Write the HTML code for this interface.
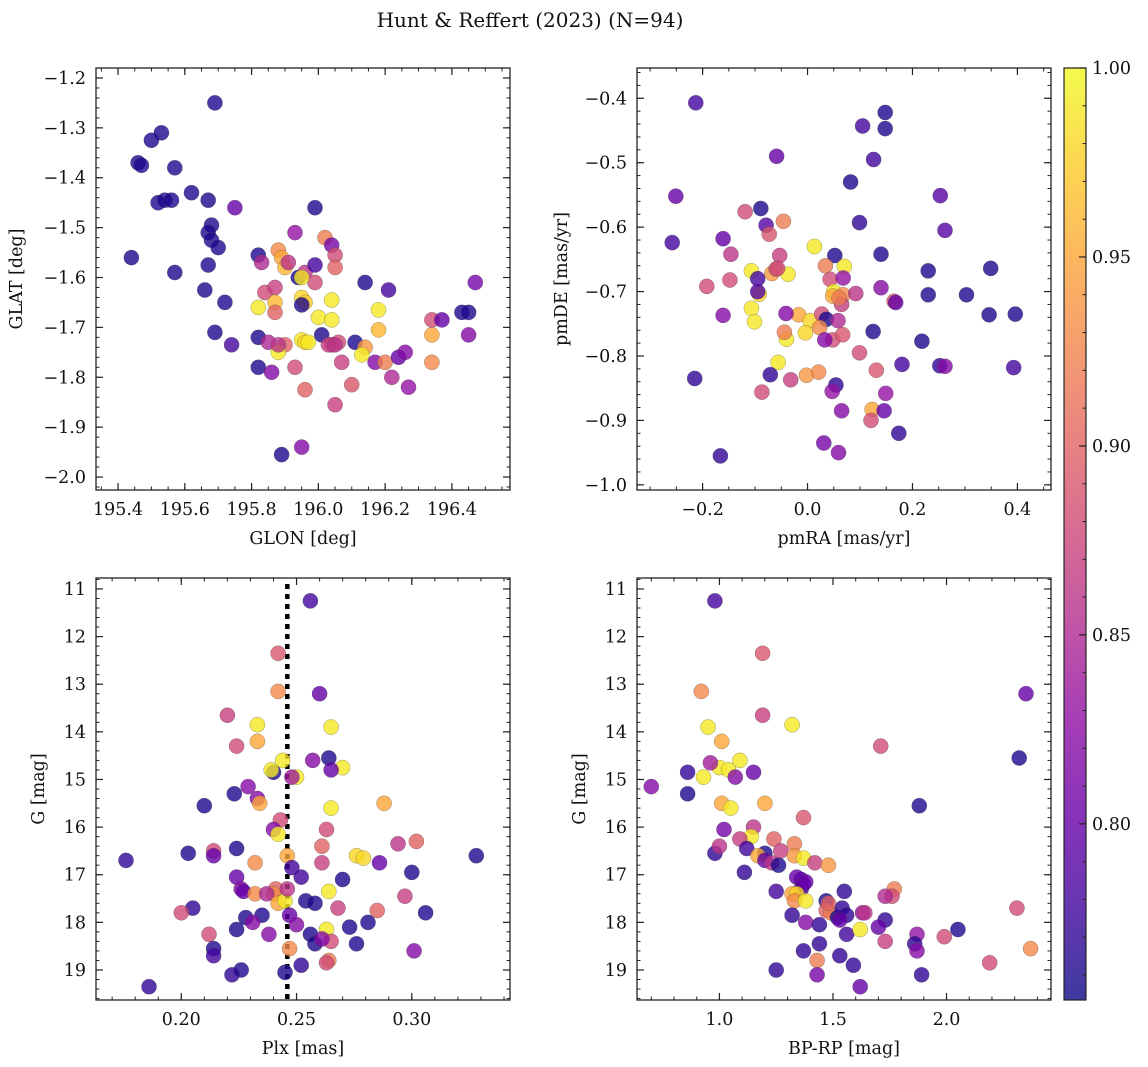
<!DOCTYPE html>
<html><head><meta charset="utf-8"><title>Hunt & Reffert (2023)</title>
<style>
html,body{margin:0;padding:0;background:#fff;}
svg{display:block;font-family:"DejaVu Serif","Liberation Serif",serif;}
</style></head>
<body>
<svg id="fig" width="1148" height="1067" viewBox="0 0 1148 1067" xmlns="http://www.w3.org/2000/svg">
<text x="530" y="27" font-size="20" text-anchor="middle" fill="#111">Hunt &amp; Reffert (2023) (N=94)</text>
</svg>
<script>
// ---- data: [x, y, membership probability] per panel ----
const glonGlat = [[195.69,-1.25,.76],[195.53,-1.31,.76],[195.50,-1.325,.76],[195.46,-1.37,.76],[195.47,-1.375,.76],[195.57,-1.38,.76],[195.62,-1.43,.76],[195.52,-1.45,.76],[195.54,-1.445,.76],[195.67,-1.445,.76],[195.75,-1.46,.8],[195.99,-1.46,.76],[195.44,-1.56,.76],[195.57,-1.59,.76],[195.68,-1.495,.76],[195.67,-1.51,.76],[195.68,-1.525,.76],[195.70,-1.54,.76],[195.67,-1.575,.76],[195.66,-1.625,.76],[195.72,-1.65,.76],[195.69,-1.71,.76],[195.74,-1.735,.78],[195.82,-1.555,.76],[195.83,-1.57,.85],[195.88,-1.545,.93],[195.89,-1.56,.95],[195.90,-1.58,.96],[195.93,-1.51,.83],[195.94,-1.6,.76],[195.96,-1.59,.86],[195.99,-1.61,.88],[195.99,-1.575,.78],[196.02,-1.52,.92],[196.04,-1.535,.81],[196.05,-1.555,.88],[196.05,-1.58,.9],[195.84,-1.63,.88],[195.87,-1.62,.87],[195.91,-1.57,.86],[195.82,-1.66,.99],[195.87,-1.65,.96],[195.95,-1.64,.98],[195.96,-1.65,.97],[195.95,-1.60,.99],[196.04,-1.645,.99],[196.00,-1.68,.99],[196.04,-1.685,.99],[195.95,-1.725,.99],[195.96,-1.73,.98],[195.97,-1.73,.99],[195.82,-1.72,.76],[195.82,-1.78,.76],[195.85,-1.73,.85],[195.87,-1.67,.9],[195.90,-1.735,.9],[195.88,-1.75,.99],[195.86,-1.79,.82],[195.93,-1.78,.88],[195.95,-1.655,.76],[196.01,-1.715,.76],[196.04,-1.735,.86],[196.06,-1.73,.88],[196.03,-1.735,.87],[196.07,-1.77,.87],[196.11,-1.73,.76],[196.14,-1.74,.94],[196.13,-1.755,.99],[196.14,-1.61,.76],[196.17,-1.77,.82],[196.18,-1.705,.96],[196.18,-1.665,.99],[196.21,-1.625,.78],[196.20,-1.77,.92],[196.22,-1.80,.85],[196.24,-1.76,.8],[196.26,-1.75,.82],[196.27,-1.82,.83],[196.10,-1.815,.89],[196.05,-1.855,.87],[195.96,-1.825,.9],[195.95,-1.94,.82],[195.89,-1.955,.76],[196.34,-1.715,.95],[196.34,-1.77,.93],[196.34,-1.685,.88],[196.37,-1.685,.8],[196.43,-1.67,.76],[196.45,-1.67,.76],[196.47,-1.61,.81],[196.45,-1.715,.82],[196.05,-1.735,.86],[195.88,-1.735,.86],[195.56,-1.445,.76]];

const pmPoints = [[-0.213,-0.407,.78],[0.148,-0.422,.76],[0.148,-0.447,.76],[0.105,-0.443,.78],[0.126,-0.495,.78],[-0.059,-0.49,.8],[-0.251,-0.552,.8],[0.253,-0.551,.79],[0.082,-0.53,.76],[-0.258,-0.624,.78],[-0.089,-0.571,.76],[-0.119,-0.576,.88],[-0.046,-0.591,.92],[-0.079,-0.597,.79],[-0.073,-0.611,.89],[0.099,-0.593,.77],[-0.161,-0.618,.8],[-0.146,-0.642,.86],[-0.053,-0.644,.87],[0.013,-0.63,.99],[0.262,-0.605,.79],[0.052,-0.644,.76],[0.14,-0.642,.76],[-0.192,-0.692,.88],[-0.148,-0.682,.88],[-0.107,-0.668,.99],[-0.068,-0.672,.94],[-0.06,-0.665,.89],[-0.037,-0.673,.99],[0.034,-0.66,.92],[-0.095,-0.68,.78],[-0.092,-0.704,.98],[-0.095,-0.7,.79],[0.07,-0.661,.99],[0.043,-0.681,.88],[0.068,-0.679,.83],[0.05,-0.7,.99],[0.048,-0.707,.95],[0.068,-0.705,.93],[0.092,-0.703,.86],[0.065,-0.72,.87],[0.165,-0.715,.89],[0.168,-0.717,.8],[0.14,-0.694,.82],[0.23,-0.668,.76],[0.23,-0.705,.76],[0.303,-0.705,.76],[0.349,-0.664,.76],[-0.107,-0.726,.99],[-0.161,-0.737,.82],[-0.101,-0.747,.99],[-0.017,-0.736,.95],[-0.041,-0.734,.82],[0.005,-0.745,.98],[0.027,-0.735,.88],[0.036,-0.743,.76],[0.023,-0.756,.93],[-0.04,-0.774,.99],[-0.004,-0.764,.98],[-0.044,-0.763,.92],[0.048,-0.775,.88],[0.067,-0.767,.89],[0.033,-0.775,.82],[-0.056,-0.81,.99],[-0.071,-0.829,.77],[0.125,-0.762,.76],[0.218,-0.777,.76],[0.099,-0.795,.88],[0.131,-0.822,.89],[0.18,-0.813,.78],[0.252,-0.815,.77],[0.262,-0.816,.82],[0.346,-0.736,.76],[0.396,-0.735,.76],[0.393,-0.818,.78],[-0.215,-0.835,.77],[-0.087,-0.856,.88],[-0.032,-0.837,.87],[-0.002,-0.83,.94],[0.021,-0.825,.93],[0.054,-0.845,.77],[0.047,-0.855,.83],[0.149,-0.858,.83],[0.123,-0.883,.95],[0.121,-0.9,.88],[0.146,-0.885,.8],[0.065,-0.885,.82],[0.031,-0.935,.81],[0.059,-0.95,.82],[0.174,-0.92,.77],[-0.166,-0.955,.77],[-0.057,-0.664,.88],[0.06,-0.71,.92],[0.058,-0.745,.85]];

const plxG = [[0.256,11.25,.78],[0.242,12.35,.89],[0.242,13.15,.93],[0.26,13.2,.8],[0.22,13.65,.87],[0.233,13.85,.99],[0.265,13.9,.99],[0.233,14.2,.95],[0.224,14.3,.88],[0.264,14.55,.76],[0.244,14.6,.99],[0.27,14.75,.99],[0.265,14.8,.8],[0.24,14.85,.76],[0.239,14.8,.99],[0.25,14.95,.99],[0.248,14.95,.84],[0.257,14.6,.82],[0.229,15.15,.82],[0.223,15.3,.76],[0.233,15.4,.82],[0.234,15.5,.95],[0.21,15.55,.76],[0.265,15.6,.99],[0.288,15.5,.95],[0.243,15.85,.88],[0.24,16.05,.82],[0.263,16.05,.88],[0.242,16.15,.99],[0.302,16.3,.9],[0.261,16.4,.9],[0.224,16.45,.76],[0.214,16.5,.88],[0.203,16.55,.76],[0.214,16.6,.8],[0.246,16.6,.95],[0.294,16.35,.86],[0.328,16.6,.76],[0.176,16.7,.77],[0.232,16.75,.93],[0.261,16.75,.87],[0.276,16.6,.98],[0.279,16.65,.98],[0.286,16.75,.8],[0.248,16.85,.78],[0.3,16.95,.76],[0.224,17.05,.8],[0.27,17.1,.76],[0.226,17.3,.82],[0.227,17.35,.8],[0.241,17.3,.9],[0.24,17.4,.93],[0.232,17.4,.93],[0.264,17.35,.99],[0.297,17.45,.87],[0.237,17.4,.85],[0.242,17.6,.95],[0.245,17.55,.99],[0.254,17.55,.76],[0.252,17.05,.78],[0.205,17.7,.77],[0.2,17.8,.88],[0.228,17.9,.76],[0.235,17.85,.76],[0.247,17.85,.8],[0.258,17.6,.76],[0.285,17.75,.9],[0.306,17.8,.76],[0.281,18.0,.76],[0.25,18.05,.82],[0.273,18.1,.76],[0.231,18.0,.82],[0.224,18.15,.76],[0.263,18.15,.99],[0.212,18.25,.88],[0.238,18.25,.82],[0.256,18.25,.76],[0.265,18.4,.88],[0.276,18.45,.76],[0.214,18.55,.76],[0.247,18.55,.93],[0.258,18.45,.76],[0.261,18.35,.82],[0.214,18.7,.78],[0.301,18.6,.82],[0.264,18.8,.92],[0.263,18.85,.88],[0.252,18.9,.77],[0.226,19.0,.76],[0.222,19.1,.77],[0.245,19.05,.76],[0.186,19.35,.77],[0.246,17.3,.86],[0.268,17.7,.87]];

const colorMag = [[0.98,11.25,.78],[1.19,12.35,.89],[0.92,13.15,.93],[2.35,13.2,.8],[1.19,13.65,.87],[1.32,13.85,.99],[0.95,13.9,.99],[1.01,14.2,.95],[1.71,14.3,.88],[2.32,14.55,.76],[1.09,14.6,.99],[1.0,14.75,.99],[1.04,14.8,.99],[0.96,14.65,.84],[0.86,14.85,.77],[1.07,14.95,.82],[1.15,14.85,.8],[0.93,14.95,.99],[0.7,15.15,.82],[0.86,15.3,.76],[1.01,15.5,.95],[1.2,15.5,.95],[1.05,15.6,.99],[1.88,15.55,.76],[1.37,15.8,.89],[1.02,16.05,.81],[1.15,16.0,.86],[1.14,16.2,.99],[1.09,16.25,.87],[1.24,16.25,.9],[1.33,16.35,.92],[0.98,16.55,.77],[1.0,16.4,.86],[1.27,16.5,.87],[1.2,16.55,.76],[1.12,16.45,.78],[1.33,16.6,.94],[1.37,16.65,.99],[1.42,16.75,.87],[1.48,16.8,.94],[1.17,16.6,.95],[1.2,16.7,.8],[1.23,16.75,.86],[1.26,16.8,.76],[1.11,16.95,.77],[1.34,17.05,.8],[1.36,17.1,.8],[1.36,17.3,.78],[1.37,17.2,.8],[1.38,17.15,.8],[1.25,17.35,.78],[1.32,17.4,.95],[1.34,17.4,.98],[1.55,17.35,.77],[1.77,17.3,.92],[1.76,17.45,.88],[1.73,17.45,.85],[1.33,17.55,.93],[1.38,17.55,.99],[1.47,17.55,.76],[1.47,17.75,.9],[1.49,17.8,.92],[1.52,17.9,.76],[1.54,17.7,.77],[1.56,17.85,.77],[2.31,17.7,.88],[1.63,17.8,.83],[1.73,17.95,.77],[1.32,17.85,.77],[1.38,18.0,.82],[1.44,18.05,.77],[1.56,18.25,.78],[1.62,18.15,.99],[1.7,18.1,.8],[2.05,18.15,.76],[1.99,18.3,.88],[1.87,18.25,.83],[1.73,18.4,.87],[1.37,18.6,.77],[1.44,18.45,.77],[1.86,18.45,.77],[1.87,18.6,.82],[1.53,18.7,.77],[1.43,18.8,.92],[1.59,18.9,.77],[2.19,18.85,.88],[2.37,18.55,.93],[1.25,19.0,.77],[1.43,19.1,.81],[1.89,19.1,.77],[1.62,19.35,.8],[1.48,17.6,.9],[1.53,17.95,.8],[1.64,17.8,.86]];

// tick label arrays
const glonTicks = [195.4,195.6,195.8,196.0,196.2,196.4];
const glatTicks = [-1.2,-1.3,-1.4,-1.5,-1.6,-1.7,-1.8,-1.9,-2.0];
const pmraTicks = [-0.2,0.0,0.2,0.4];
const pmdeTicks = [-0.4,-0.5,-0.6,-0.7,-0.8,-0.9,-1.0];
const plxTicks = [0.20,0.25,0.30];
const gTicks = [11,12,13,14,15,16,17,18,19];
const bprpTicks = [1.0,1.5,2.0];
const cbarTicks = [0.80,0.85,0.90,0.95,1.00];
const plxRef = [0.246];
const cRange = [0.7534, 1.0];

const NS = "http://www.w3.org/2000/svg";
const svg = document.getElementById('fig');
const FS = 17.5;
function mk(tag, attrs, parent){ const e=document.createElementNS(NS,tag); for(const k in attrs) e.setAttribute(k,attrs[k]); (parent||svg).appendChild(e); return e; }

const stops = ["#0d0887","#41049d","#6a00a8","#8f0da4","#b12a90","#cc4778","#e16462","#f2844b","#fca636","#fcce25","#f0f921"];
function hex(h){return [parseInt(h.slice(1,3),16),parseInt(h.slice(3,5),16),parseInt(h.slice(5,7),16)];}
function plasma(t){ t=Math.max(0,Math.min(1,t)); const f=t*10, i=Math.min(9,Math.floor(f)), u=f-i; const a=hex(stops[i]), b=hex(stops[i+1]); return `rgb(${a.map((v,k)=>Math.round(v+(b[k]-v)*u)).join(',')})`; }
function cnorm(c){ return (c-cRange[0])/(cRange[1]-cRange[0]); }
function fmt(v,d){ const s=Math.abs(v).toFixed(d); return (v<-1e-9?"\u2212":"")+s; }

function drawPanel(cfg){
  const g = mk('g',{});
  
  
  const {x0,y0,w,h} = cfg;
  const sx = v => x0 + (v-cfg.xmin)/(cfg.xmax-cfg.xmin)*w;
  const sy = v => y0 + (v-cfg.ytop)/(cfg.ybot-cfg.ytop)*h;
  const cid = 'clip-'+cfg.name;
  const cp = mk('clipPath',{id:cid},g); mk('rect',{x:x0,y:y0,width:w,height:h},cp);
  if(cfg.vline){ cfg.vline.forEach(v=>{
    const l = mk('line',{x1:sx(v),x2:sx(v),y1:y0+6,y2:y0+h,stroke:'#000','stroke-width':4.5,'stroke-dasharray':'5,5'},g);
    
    
  });}
  const pg = mk('g',{'clip-path':`url(#${cid})`},g);
  cfg.pts.forEach(p=>{
    const c = mk('circle',{cx:sx(p[0]).toFixed(1),cy:sy(p[1]).toFixed(1),r:7.6,fill:plasma(cnorm(p[2])),'fill-opacity':0.8,stroke:'#444','stroke-opacity':0.5,'stroke-width':0.5},pg);
    
    
  });
  const fr = mk('rect',{x:x0,y:y0,width:w,height:h,fill:'none',stroke:'#222','stroke-width':1.3},g);
  
  
  const eps=1e-9;
  function range(a,b,s){ const r=[]; const lo=Math.min(a,b), hi=Math.max(a,b); for(let k=Math.ceil(lo/s-eps); k*s<=hi+eps; k++) r.push(k*s); return r; }
  range(cfg.xmin,cfg.xmax,cfg.xMinor).forEach(v=>{ const x=sx(v);
    mk('line',{x1:x,x2:x,y1:y0+h,y2:y0+h-3.5,stroke:'#222','stroke-width':1},g);
    mk('line',{x1:x,x2:x,y1:y0,y2:y0+3.5,stroke:'#222','stroke-width':1},g); });
  range(cfg.ytop,cfg.ybot,cfg.yMinor).forEach(v=>{ const y=sy(v);
    mk('line',{x1:x0,x2:x0+3.5,y1:y,y2:y,stroke:'#222','stroke-width':1},g);
    mk('line',{x1:x0+w,x2:x0+w-3.5,y1:y,y2:y,stroke:'#222','stroke-width':1},g); });
  cfg.xTicks.forEach(v=>{ const x=sx(v);
    mk('line',{x1:x,x2:x,y1:y0+h,y2:y0+h-7,stroke:'#222','stroke-width':1.2},g);
    mk('line',{x1:x,x2:x,y1:y0,y2:y0+7,stroke:'#222','stroke-width':1.2},g);
    const t = mk('text',{x:x,y:y0+h+25,'font-size':FS,'text-anchor':'middle',fill:'#111'},g);
    t.textContent = fmt(v,cfg.xd);
    
    
  });
  cfg.yTicks.forEach(v=>{ const y=sy(v);
    mk('line',{x1:x0,x2:x0+7,y1:y,y2:y,stroke:'#222','stroke-width':1.2},g);
    mk('line',{x1:x0+w,x2:x0+w-7,y1:y,y2:y,stroke:'#222','stroke-width':1.2},g);
    const t = mk('text',{x:x0-10,y:y+6,'font-size':FS,'text-anchor':'end',fill:'#111'},g);
    t.textContent = fmt(v,cfg.yd);
    
    
  });
  const xl = mk('text',{x:x0+w/2,y:y0+h+54,'font-size':FS,'text-anchor':'middle',fill:'#111'},g);
  xl.textContent = cfg.xlabel;
  
  
  const yl = mk('text',{x:0,y:0,'font-size':FS,'text-anchor':'middle',fill:'#111',transform:`translate(${cfg.ylx},${y0+h/2}) rotate(-90)`},g);
  yl.textContent = cfg.ylabel;
  
  
}

drawPanel({name:'glon-glat-panel',x0:96,y0:68,w:414,h:422,xmin:195.334,xmax:196.574,ytop:-1.18,ybot:-2.026,
  xMinor:0.05,yMinor:0.02,xTicks:glonTicks,yTicks:glatTicks,xd:1,yd:1,xlabel:'GLON [deg]',ylabel:'GLAT [deg]',ylx:22,pts:glonGlat});
drawPanel({name:'proper-motion-panel',x0:637,y0:68,w:414,h:422,xmin:-0.325,xmax:0.464,ytop:-0.353,ybot:-1.008,
  xMinor:0.05,yMinor:0.02,xTicks:pmraTicks,yTicks:pmdeTicks,xd:1,yd:1,xlabel:'pmRA [mas/yr]',ylabel:'pmDE [mas/yr]',ylx:567,pts:pmPoints});
drawPanel({name:'parallax-magnitude-panel',x0:96,y0:578,w:414,h:422,xmin:0.163,xmax:0.3426,ytop:10.77,ybot:19.63,
  xMinor:0.01,yMinor:0.2,xTicks:plxTicks,yTicks:gTicks,xd:2,yd:0,xlabel:'Plx [mas]',ylabel:'G [mag]',ylx:44,pts:plxG,vline:plxRef});
drawPanel({name:'color-magnitude-panel',x0:637,y0:578,w:414,h:422,xmin:0.637,xmax:2.46,ytop:10.77,ybot:19.63,
  xMinor:0.1,yMinor:0.2,xTicks:bprpTicks,yTicks:gTicks,xd:1,yd:0,xlabel:'BP-RP [mag]',ylabel:'G [mag]',ylx:585,pts:colorMag});

// colorbar
(function(){
  const x0=1064,y0=68,w=22,h=932;
  const g = mk('g',{});
  
  
  const defs = mk('defs',{},g);
  const lg = mk('linearGradient',{id:'cbgrad',x1:0,y1:1,x2:0,y2:0},defs);
  for(let i=0;i<=20;i++){ mk('stop',{offset:(i/20),'stop-color':plasma(i/20)},lg); }
  mk('rect',{x:x0,y:y0,width:w,height:h,fill:'url(#cbgrad)','fill-opacity':0.8},g);
  mk('rect',{x:x0,y:y0,width:w,height:h,fill:'none',stroke:'#222','stroke-width':1.2},g);
  const sy = v => y0 + (cRange[1]-v)/(cRange[1]-cRange[0])*h;
  for(let k=76;k<=100;k++){ const v=k/100; const y=sy(v); if(y<y0-0.5||y>y0+h) continue;
    mk('line',{x1:x0+w,x2:x0+w-3.5,y1:y,y2:y,stroke:'#222','stroke-width':1},g); }
  cbarTicks.forEach(v=>{ const y=sy(v);
    mk('line',{x1:x0+w,x2:x0+w-7,y1:y,y2:y,stroke:'#222','stroke-width':1.2},g);
    const t = mk('text',{x:x0+w+6,y:y+6,'font-size':FS,fill:'#111'},g);
    t.textContent = v.toFixed(2);
    
    
  });
})();
</script>
</body></html>
